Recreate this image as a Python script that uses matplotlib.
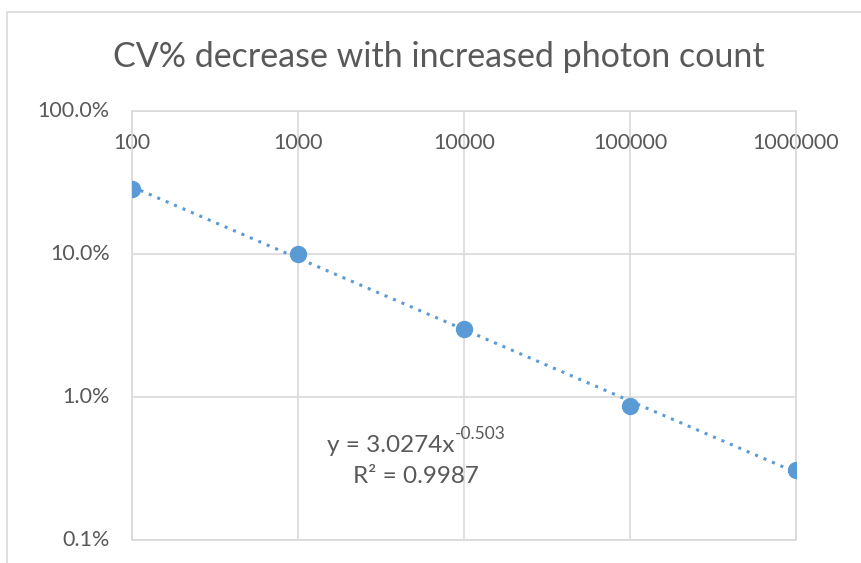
import numpy as np
import matplotlib
matplotlib.use("Agg")
import matplotlib.pyplot as plt
from matplotlib.patches import Rectangle
from matplotlib.ticker import FixedLocator, NullLocator

photons = [100, 1000, 10000, 100000, 1000000]
cv = [0.285, 0.100, 0.030, 0.0086, 0.0031]
x_ticks = [100, 1000, 10000, 100000, 1000000]
x_labels = ["100", "1000", "10000", "100000", "1000000"]
y_ticks = [0.001, 0.01, 0.1, 1.0]
y_labels = ["0.1%", "1.0%", "10.0%", "100.0%"]
title = "CV% decrease with increased photon count"
eq_main = "y = 3.0274x"
eq_sup = "-0.503"
r2_text = "R² = 0.9987"

W, H = 861, 563
plt.rcParams['font.family'] = ['Lato', 'DejaVu Sans']
fig = plt.figure(figsize=(W / 100, H / 100), dpi=100)

# outer chart border
fig.patches.append(Rectangle((7 / W, -0.1), 1.2, 1 - 12 / H + 0.1, transform=fig.transFigure,
                             fill=False, edgecolor="#d9d9d9", linewidth=1.2))

ax = fig.add_axes([132 / W, 1 - 540 / H, (796 - 132) / W, (540 - 111) / H])
blue = "#5b9bd5"
gray_txt = "#595959"
grid_c = "#d9d9d9"

ax.set_xscale("log")
ax.set_yscale("log")
ax.set_xlim(100, 1000000)
ax.set_ylim(0.001, 1.0)

# trendline from power fit
coef = np.polyfit(np.log10(photons), np.log10(cv), 1)
xs = np.logspace(2, 6, 200)
ax.plot(xs, 10 ** np.polyval(coef, np.log10(xs)), linestyle=(0, (1, 2)), color=blue, linewidth=2.2, zorder=3)
ax.plot(photons, cv, "o", color=blue, markersize=11.5, zorder=4)

ax.xaxis.tick_top()
ax.xaxis.set_major_locator(FixedLocator(x_ticks))
ax.xaxis.set_minor_locator(NullLocator())
ax.yaxis.set_major_locator(FixedLocator(y_ticks))
ax.yaxis.set_minor_locator(NullLocator())
ax.set_xticklabels(x_labels)
ax.set_yticklabels(y_labels)
ax.grid(True, color=grid_c, linewidth=1.2)
for s in ax.spines.values():
    s.set_color(grid_c)
    s.set_linewidth(1.2)
ax.tick_params(axis="both", length=0, labelsize=15.5, labelcolor=gray_txt)
ax.tick_params(axis="x", pad=-30)
ax.tick_params(axis="y", pad=16)
for lab in ax.get_yticklabels():
    lab.set_verticalalignment("center")

fig.text(439 / W, 1 - 57 / H, title, ha="center", va="center", fontsize=24.5, color=gray_txt)
t_main = fig.text(327 / W, 1 - 452 / H, eq_main, ha="left", va="baseline", fontsize=17.5, color=gray_txt)
ax.annotate(eq_sup, xy=(1, 0), xycoords=t_main, xytext=(0.5, 10), textcoords="offset points",
            ha="left", va="bottom", fontsize=12.5, color=gray_txt, annotation_clip=False)
fig.text(416 / W, 1 - 483 / H, r2_text, ha="center", va="baseline", fontsize=17.5, color=gray_txt)

fig.savefig("out.png", dpi=100)
